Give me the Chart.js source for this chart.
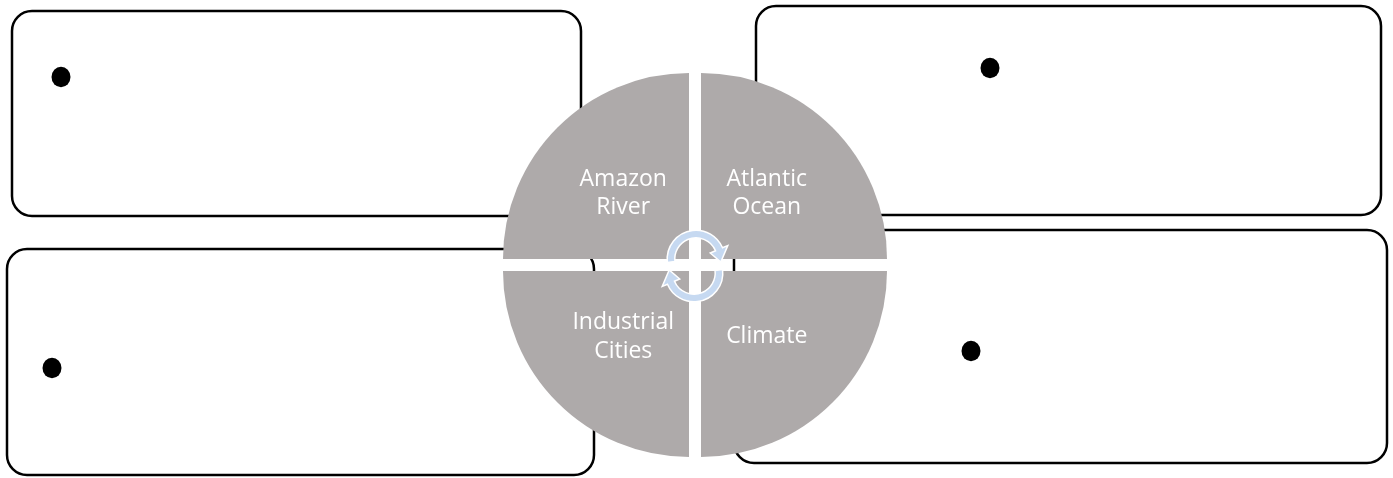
<!DOCTYPE html>
<html>
<head>
<meta charset="utf-8">
<script src="https://cdn.jsdelivr.net/npm/chart.js@4.4.0/dist/chart.umd.min.js"></script>
<style>
  html, body { margin: 0; padding: 0; background: #fff; }
  #wrap { position: relative; width: 1393px; height: 478px; }
</style>
</head>
<body>
<div id="wrap"><canvas id="cycleChart"></canvas></div>
<script>
const categories = ['Amazon River', 'Atlantic Ocean', 'Climate', 'Industrial Cities'];
const values = [1, 1, 1, 1];
const sliceColors = ['#aeaaaa', '#aeaaaa', '#aeaaaa', '#aeaaaa'];

// empty text boxes behind the circle: left, top, right, bottom, bullet x, bullet y
const boxes = [
  [12, 11, 581, 216, 61, 77],
  [756, 6, 1381, 215, 990, 68],
  [7, 249, 594, 475, 52, 368],
  [734, 230, 1387, 463, 971, 351]
];

const SLICE_OFFSET = 34; // chart.js moves a slice by offset / 4

function roundRect(ctx, l, t, r, b, rad) {
  ctx.beginPath();
  ctx.moveTo(l + rad, t);
  ctx.lineTo(r - rad, t);
  ctx.arcTo(r, t, r, t + rad, rad);
  ctx.lineTo(r, b - rad);
  ctx.arcTo(r, b, r - rad, b, rad);
  ctx.lineTo(l + rad, b);
  ctx.arcTo(l, b, l, b - rad, rad);
  ctx.lineTo(l, t + rad);
  ctx.arcTo(l, t, l + rad, t, rad);
  ctx.closePath();
}

const boxPlugin = {
  id: 'boxes',
  beforeDatasetsDraw(chart) {
    const ctx = chart.ctx;
    ctx.save();
    boxes.forEach(b => {
      roundRect(ctx, b[0], b[1], b[2], b[3], 20);
      ctx.fillStyle = '#fff';
      ctx.fill();
      ctx.lineWidth = 2.5;
      ctx.strokeStyle = '#000';
      ctx.stroke();
      ctx.beginPath();
      ctx.ellipse(b[4], b[5], 9.5, 10.2, 0, 0, Math.PI * 2);
      ctx.fillStyle = '#000';
      ctx.fill();
    });
    ctx.restore();
  }
};

function cycleArrow(ctx, x, y, r, a0, a1, tip) {
  const w = 3.8, hw = 9.5;
  ctx.beginPath();
  ctx.arc(x, y, r + w, a0, a1);
  ctx.lineTo(x + Math.cos(a1) * (r + hw), y + Math.sin(a1) * (r + hw));
  ctx.lineTo(x + Math.cos(tip) * r, y + Math.sin(tip) * r);
  ctx.lineTo(x + Math.cos(a1) * (r - hw), y + Math.sin(a1) * (r - hw));
  ctx.arc(x, y, r - w, a1, a0, true);
  ctx.closePath();
  ctx.fillStyle = '#c6d9f1';
  ctx.fill();
  ctx.lineWidth = 1.5;
  ctx.strokeStyle = '#fff';
  ctx.stroke();
}

const labelPlugin = {
  id: 'labels',
  afterDatasetsDraw(chart) {
    const ctx = chart.ctx;
    const arcs = chart.getDatasetMeta(0).data;
    ctx.save();
    ctx.font = '23px "Open Sans"';
    ctx.fillStyle = '#fff';
    ctx.textAlign = 'center';
    ctx.textBaseline = 'middle';
    arcs.forEach((arc, i) => {
      const h = (arc.startAngle + arc.endAngle) / 2;
      const d = SLICE_OFFSET / 4 + arc.outerRadius * 0.5;
      const px = arc.x + Math.cos(h) * d;
      const py = arc.y + Math.sin(h) * d;
      const lines = categories[i].split(' ');
      const lh = 28.5;
      lines.forEach((ln, k) => {
        ctx.fillText(ln, px, py + (k - (lines.length - 1) / 2) * lh);
      });
    });
    // cycle arrows in the middle
    const cx = arcs[0].x, cy = arcs[0].y;
    const PI = Math.PI;
    cycleArrow(ctx, cx + 1, cy - 6, 25, PI - 0.12, 2 * PI - 0.4, 2 * PI + 0.12);
    cycleArrow(ctx, cx - 1, cy + 8, 25, -0.12, PI - 0.4, PI + 0.12);
    ctx.restore();
  }
};

new Chart(document.getElementById('cycleChart'), {
  type: 'pie',
  data: {
    labels: categories,
    datasets: [{
      data: values,
      backgroundColor: sliceColors,
      borderWidth: 0,
      offset: SLICE_OFFSET,
      hoverOffset: 0
    }]
  },
  options: {
    responsive: true,
    maintainAspectRatio: false,
    animation: false,
    rotation: -90,
    radius: 186,
    layout: { padding: { top: 52, right: 3, left: 0, bottom: 0 } },
    plugins: {
      legend: { display: false },
      tooltip: { enabled: false }
    },
    events: []
  },
  plugins: [boxPlugin, labelPlugin]
});
</script>
</body>
</html>
